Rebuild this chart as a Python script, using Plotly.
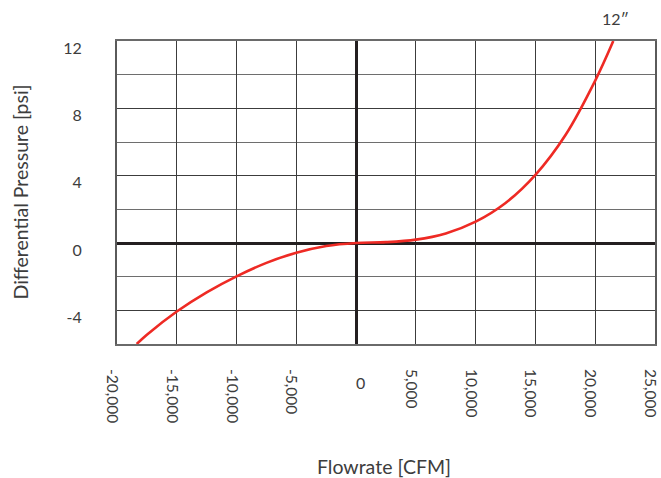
import plotly.graph_objects as go

# Flowrate vs differential pressure curve for the 12" unit
flow_cfm = [-18350, -17500, -15000, -12500, -10000, -7500, -5000, -2500, 0,
            2500, 5000, 7500, 10000, 12500, 15000, 17500, 20000, 21510]
dp_psi = [-6.0, -5.45, -4.07, -2.93, -1.98, -1.18, -0.58, -0.18, 0.0,
          0.05, 0.2, 0.57, 1.27, 2.38, 4.05, 6.4, 9.65, 12.0]

x_ticks = [-20000, -15000, -10000, -5000, 0, 5000, 10000, 15000, 20000, 25000]
x_labels = ["-20,000", "-15,000", "-10,000", "-5,000", "", "5,000",
            "10,000", "15,000", "20,000", "25,000"]
y_ticks = [-4, 0, 4, 8, 12]
y_labels = ["-4", "0", "4", "8", "12"]

FONT = "Lato"
TEXT = "#3d3d3d"

fig = go.Figure()
fig.add_trace(go.Scatter(
    x=flow_cfm, y=dp_psi, mode="lines",
    line=dict(color="#ee2a24", width=2.6, shape="spline", smoothing=1.0),
    hoverinfo="skip", showlegend=False,
))

fig.update_layout(
    width=661, height=478,
    margin=dict(l=117, r=6, t=41, b=134),
    paper_bgcolor="white", plot_bgcolor="white",
    font=dict(family=FONT, color=TEXT, size=16),
    showlegend=False,
)

fig.update_xaxes(
    range=[-20000, 25000], automargin=False,
    tickvals=x_ticks, ticktext=x_labels, ticklabeloverflow="allow",
    tickangle=90, ticks="", ticklabelstandoff=20, ticklabelshift=-5,
    showgrid=True, gridcolor="#3c3c3c", gridwidth=1.4,
    zeroline=True, zerolinecolor="#231f20", zerolinewidth=3,
    showline=True, mirror=True, linecolor="#6a6a6a", linewidth=2,
    tickfont=dict(family=FONT, size=15.5, color=TEXT),
)
fig.update_yaxes(
    range=[-6, 12], automargin=False,
    tickvals=y_ticks, ticktext=y_labels,
    ticks="", ticklabelstandoff=30, ticklabelshift=7,
    showgrid=True, gridcolor="#3c3c3c", gridwidth=1.4,
    minor=dict(dtick=2, tick0=0, showgrid=True, gridcolor="#6e6e6e", gridwidth=1.4),
    zeroline=True, zerolinecolor="#231f20", zerolinewidth=3,
    showline=True, mirror=True, linecolor="#5a5a5a", linewidth=2,
    tickfont=dict(family=FONT, size=16, color=TEXT),
)

# Upright "0" label under the vertical zero line
fig.add_annotation(text="0", xref="x", yref="paper",
                   x=0, y=0, xshift=4, yshift=-38, yanchor="middle",
                   showarrow=False, font=dict(family=FONT, size=16, color=TEXT))

# Axis titles and the curve label
fig.add_annotation(text="Flowrate [CFM]", xref="paper", yref="paper",
                   x=0.496, y=0, yshift=-122, yanchor="middle", showarrow=False,
                   font=dict(family=FONT, size=19.5, color=TEXT))
fig.add_annotation(text="Differential Pressure [psi]", xref="paper", yref="paper",
                   x=0, y=0.5, xshift=-97, xanchor="center", textangle=-90,
                   showarrow=False,
                   font=dict(family=FONT, size=19.5, color=TEXT))
fig.add_annotation(text="12″", xref="x", yref="paper",
                   x=flow_cfm[-1], y=1, xshift=2, yshift=23, yanchor="middle",
                   showarrow=False,
                   font=dict(family=FONT, size=16, color=TEXT))

fig.write_html("out.html")
